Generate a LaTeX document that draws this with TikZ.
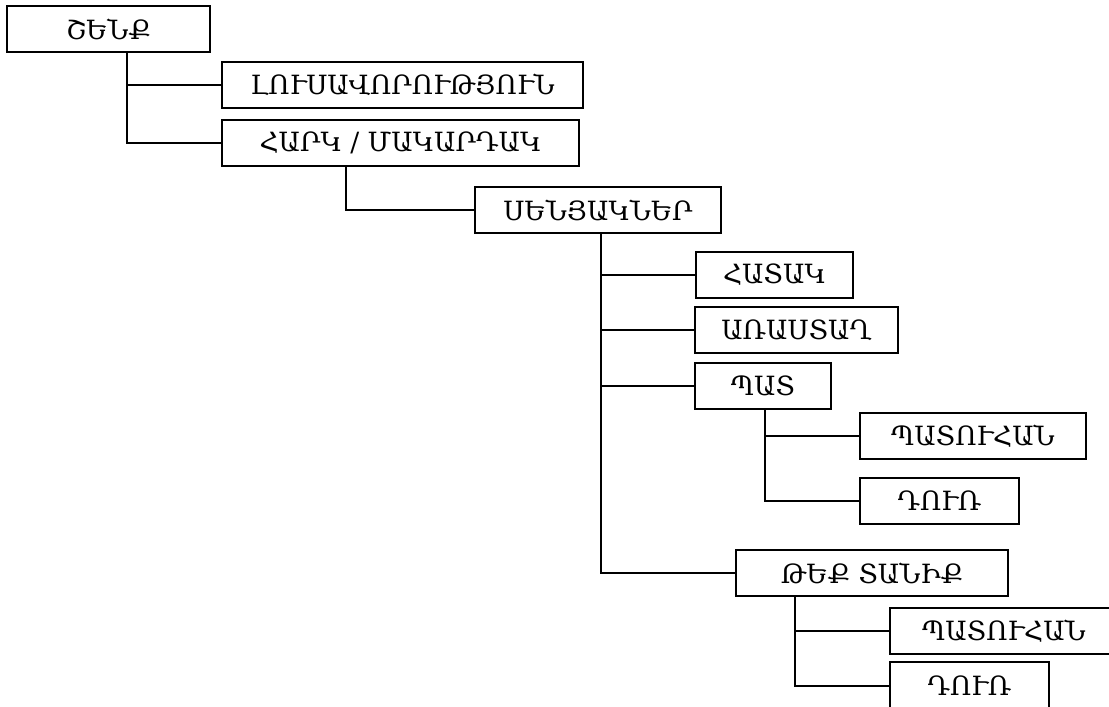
\documentclass[tikz,border=0pt]{standalone}
\usepackage{fontspec}
\setmainfont{DejaVu Serif}
\begin{document}
\begin{tikzpicture}[x=1pt,y=-1pt,
  box/.style={draw,line width=2pt,inner sep=0pt,anchor=center,font=\fontsize{26.5}{28}\selectfont},
  link/.style={line width=2pt}]
\useasboundingbox (0,0) rectangle (1109,707);
\clip (0,0) rectangle (1109,707);
\node[box,minimum width=203pt,minimum height=46pt] (A) at (108.5,29) {ՇԵՆՔ};
\node[box,minimum width=361pt,minimum height=46pt] (B) at (402.5,85) {ԼՈՒՍԱՎՈՐՈՒԹՅՈՒՆ};
\node[box,minimum width=357pt,minimum height=46pt] (C) at (400.5,143) {ՀԱՐԿ / ՄԱԿԱՐԴԱԿ};
\node[box,minimum width=246pt,minimum height=46pt] (D) at (598,210) {ՍԵՆՅԱԿՆԵՐ};
\node[box,minimum width=157pt,minimum height=46pt] (E) at (774.5,275) {ՀԱՏԱԿ};
\node[box,minimum width=203pt,minimum height=46pt] (F) at (796.5,330) {ԱՌԱՍՏԱՂ};
\node[box,minimum width=136pt,minimum height=46pt] (G) at (763,386) {ՊԱՏ};
\node[box,minimum width=226pt,minimum height=46pt] (H) at (973,436) {ՊԱՏՈՒՀԱՆ};
\node[box,minimum width=159pt,minimum height=46pt] (I) at (939.5,501) {ԴՈՒՌ};
\node[box,minimum width=272pt,minimum height=46pt] (J) at (872,573) {ԹԵՔ ՏԱՆԻՔ};
\node[box,minimum width=228pt,minimum height=46pt] (K) at (1004,631) {ՊԱՏՈՒՀԱՆ};
\node[box,minimum width=159pt,minimum height=48pt] (L) at (969.5,686) {ԴՈՒՌ};
\coordinate (ta) at (127,0);
\coordinate (tc) at (346,0);
\coordinate (td) at (601,0);
\coordinate (tg) at (765,0);
\coordinate (tj) at (795,0);
\draw[link] (ta |- A.south) |- (B.west);
\draw[link] (ta |- A.south) |- (C.west);
\draw[link] (tc |- C.south) |- (D.west);
\draw[link] (td |- D.south) |- (E.west);
\draw[link] (td |- D.south) |- (F.west);
\draw[link] (td |- D.south) |- (G.west);
\draw[link] (td |- D.south) |- (J.west);
\draw[link] (tg |- G.south) |- (H.west);
\draw[link] (tg |- G.south) |- (I.west);
\draw[link] (tj |- J.south) |- (K.west);
\draw[link] (tj |- J.south) |- (L.west);
\end{tikzpicture}
\end{document}
